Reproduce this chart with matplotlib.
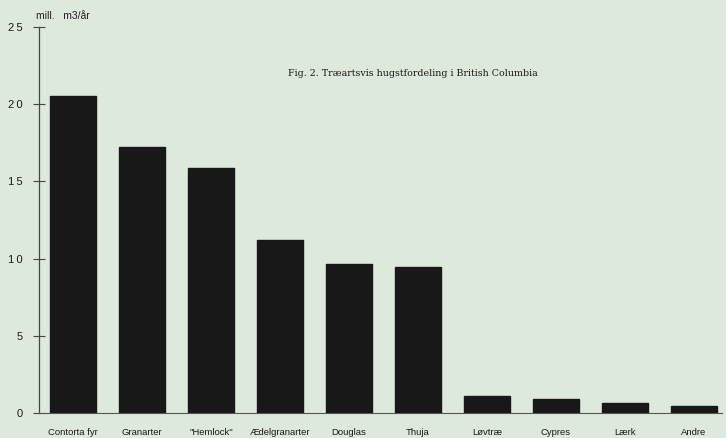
import matplotlib
matplotlib.use("Agg")
import matplotlib.pyplot as plt

categories = ["Contorta fyr", "Granarter", "\"Hemlock\"", "Ædelgranarter", "Douglas",
              "Thuja", "Løvtræ", "Cypres", "Lærk", "Andre"]
values = [20.5, 17.2, 15.9, 11.2, 9.65, 9.45, 1.1, 0.9, 0.65, 0.45]
yticks = [0, 5, 10, 15, 20, 25]

bg = "#dde9dc"
W, H = 726, 438
fig = plt.figure(figsize=(W / 100, H / 100), dpi=100, facecolor=bg)
ax = fig.add_axes([39 / W, (H - 413) / H, (722 - 39) / W, (413 - 27) / H])
ax.set_facecolor(bg)

x = list(range(len(categories)))
ax.bar(x, values, width=0.67, color="#181818", edgecolor="#181818", zorder=3)

ax.set_ylim(0, 25)
ax.set_xlim(-0.493, 9.41)
ax.set_yticks(yticks)
ax.set_yticklabels(["\u2009".join(str(v)) for v in yticks], family="Liberation Sans",
                   fontsize=8, color="#1a1a1a")
ax.set_xticks(x)
ax.set_xticklabels(categories, family="Liberation Sans", fontsize=6.8, color="#1a1a1a")
ax.tick_params(axis="y", direction="inout", length=9, width=0.8, color="#444444", pad=7.5)
ax.tick_params(axis="x", length=0, pad=11)
for s in ["top", "right"]:
    ax.spines[s].set_visible(False)
ax.spines["left"].set_color("#444444")
ax.spines["left"].set_linewidth(0.9)
ax.spines["bottom"].set_color("#555555")
ax.spines["bottom"].set_linewidth(0.8)

fig.text(36 / W, 1 - 16 / H, "mill.   m3/år", family="Liberation Sans", fontsize=7.5,
         color="#222222", va="center", ha="left")
fig.text(288 / W, 1 - 73 / H, "Fig. 2. Træartsvis hugstfordeling i British Columbia",
         family="DejaVu Serif", fontsize=6.8, color="#1a1a1a", va="center", ha="left")

fig.savefig("out.png", dpi=100, facecolor=bg)
